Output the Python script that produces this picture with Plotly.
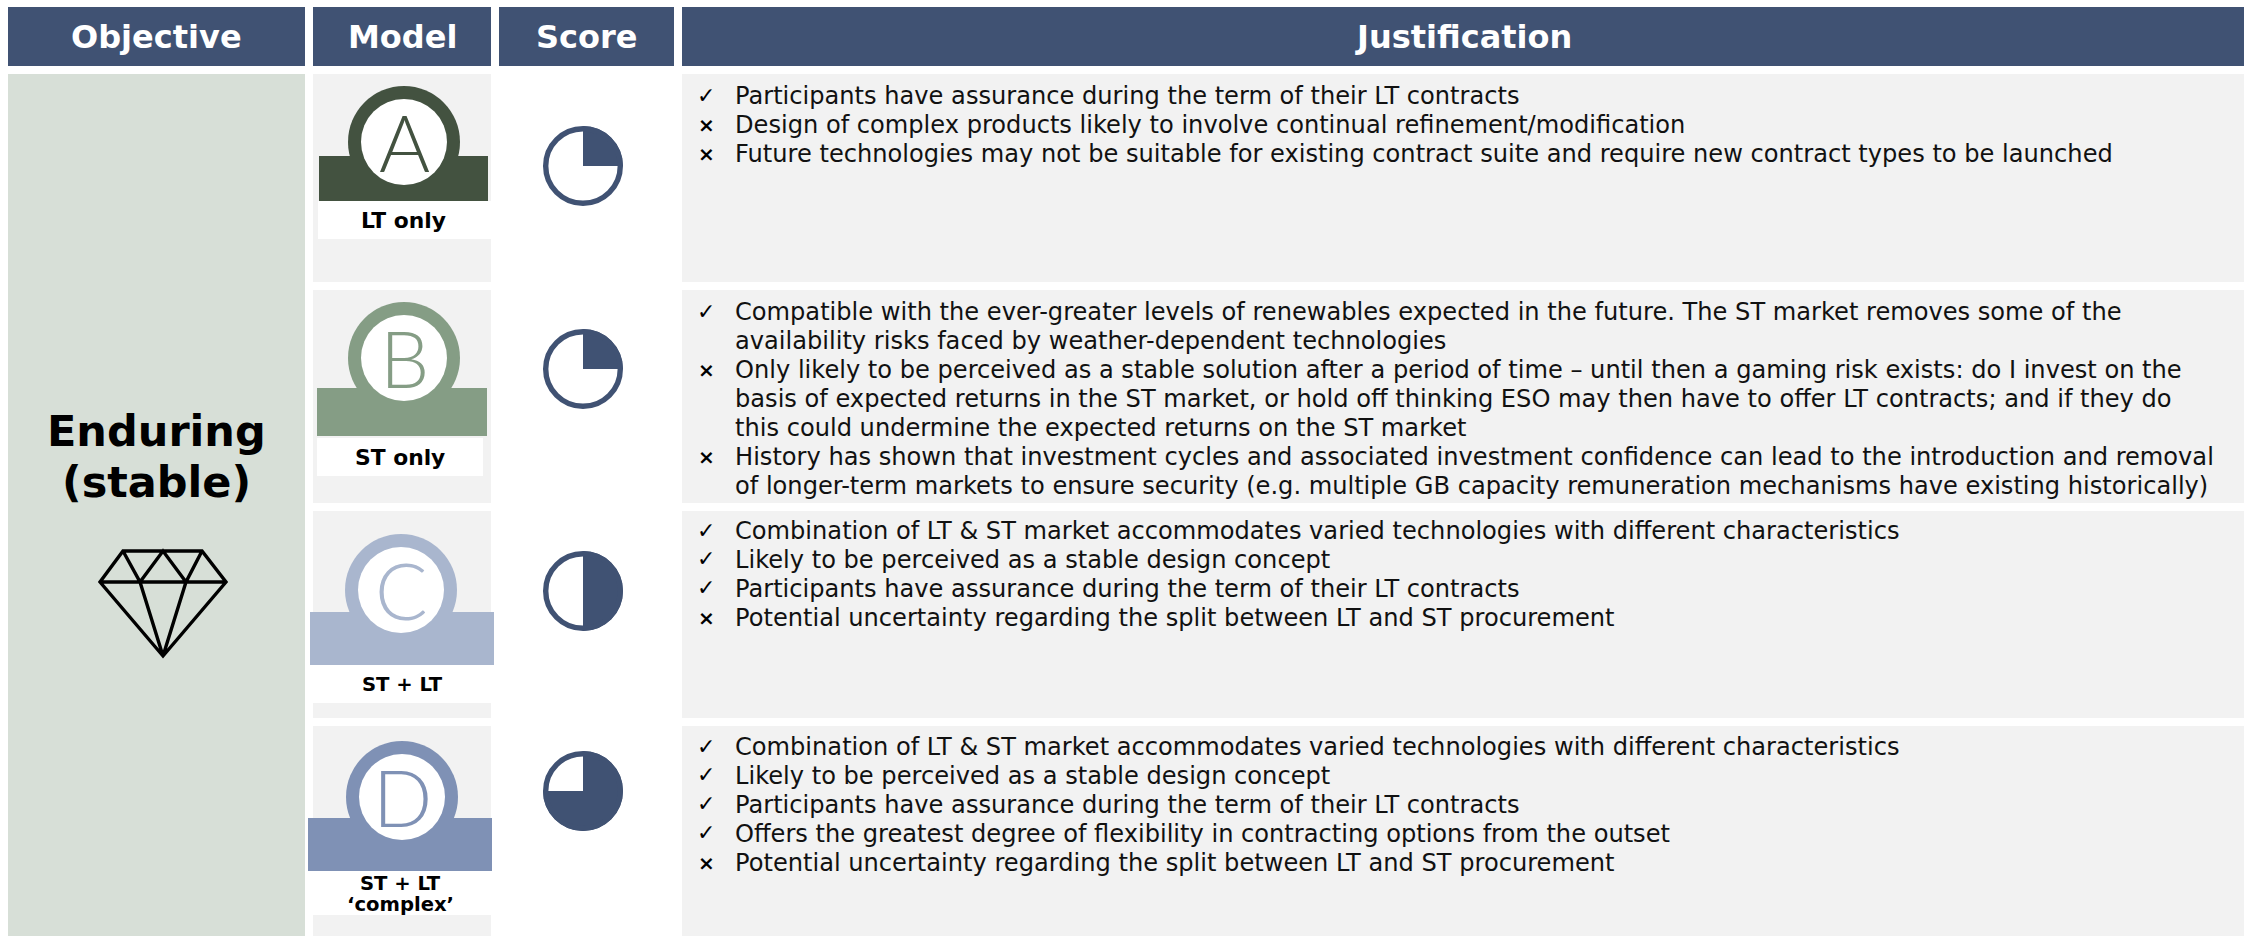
import plotly.graph_objects as go

# ---- content ----
headers = ["Objective", "Model", "Score", "Justification"]
objective_lines = ["Enduring", "(stable)"]
model_letters = ["A", "B", "C", "D"]
model_labels = [["LT only"], ["ST only"], ["ST + LT"], ["ST + LT", "‘complex’"]]
score_values = [25, 25, 50, 75]

just_a = [
    ("✓", ["Participants have assurance during the term of their LT contracts"]),
    ("×", ["Design of complex products likely to involve continual refinement/modification"]),
    ("×", ["Future technologies may not be suitable for existing contract suite and require new contract types to be launched"]),
]
just_b = [
    ("✓", ["Compatible with the ever-greater levels of renewables expected in the future. The ST market removes some of the",
           "availability risks faced by weather-dependent technologies"]),
    ("×", ["Only likely to be perceived as a stable solution after a period of time – until then a gaming risk exists: do I invest on the",
           "basis of expected returns in the ST market, or hold off thinking ESO may then have to offer LT contracts; and if they do",
           "this could undermine the expected returns on the ST market"]),
    ("×", ["History has shown that investment cycles and associated investment confidence can lead to the introduction and removal",
           "of longer-term markets to ensure security (e.g. multiple GB capacity remuneration mechanisms have existing historically)"]),
]
just_c = [
    ("✓", ["Combination of LT & ST market accommodates varied technologies with different characteristics"]),
    ("✓", ["Likely to be perceived as a stable design concept"]),
    ("✓", ["Participants have assurance during the term of their LT contracts"]),
    ("×", ["Potential uncertainty regarding the split between LT and ST procurement"]),
]
just_d = [
    ("✓", ["Combination of LT & ST market accommodates varied technologies with different characteristics"]),
    ("✓", ["Likely to be perceived as a stable design concept"]),
    ("✓", ["Participants have assurance during the term of their LT contracts"]),
    ("✓", ["Offers the greatest degree of flexibility in contracting options from the outset"]),
    ("×", ["Potential uncertainty regarding the split between LT and ST procurement"]),
]
justifications = [just_a, just_b, just_c, just_d]

# ---- layout (pixels) and styles ----
W, H = 2250, 936
NAVY, GREY, SAGE = "#405273", "#F2F2F2", "#D7DFD7"
FONT = "DejaVu Sans"
cols = [(8, 305), (313, 491), (499, 674), (682, 2244)]
rows = [(74, 282), (290, 503), (511, 718), (726, 936)]
emblem_colors = ["#435240", "#859D85", "#A9B6CE", "#7F91B5"]
emblem_cx = [404, 404, 401, 402]
emblem_cy = [142, 358, 590, 797]
bars = [(319, 488, 156, 201), (317, 487, 388, 436), (310, 494, 612, 665), (308, 492, 818, 871)]
label_boxes = [(318, 491, 201, 239), (317, 483, 438, 476), (313, 491, 665, 703), (313, 491, 871, 915)]
label_cx = [403, 400, 402, 400]
label_y0 = [220, 457, 684, 883]
label_size = [21.8, 21.8, 19.6, 19.6]
pie_cx, pie_r, pie_ring = 583, 40, 5.4
pie_cy = [166, 369, 591, 791]
text_y0 = [96, 312, 531, 747]
LINE = 28.95

shapes, ann = [], []


def rect(x0, x1, y0, y1, color):
    shapes.append(dict(type="rect", x0=x0, x1=x1, y0=y0, y1=y1, fillcolor=color, line_width=0))


def circ(cx, cy, r, fill, line=None, lw=0):
    shapes.append(dict(type="circle", x0=cx - r, x1=cx + r, y0=cy - r, y1=cy + r,
                       fillcolor=fill, line=dict(color=line or fill, width=lw)))


def text(x, y, s, size, color="#000000", bold=False, anchor="center", family=FONT, weight=None):
    ann.append(dict(x=x, y=y, text=s, showarrow=False, xanchor=anchor, yanchor="middle",
                    font=dict(family=family, size=size, color=color,
                              weight=weight if weight else ("bold" if bold else "normal"))))


# header row
for (x0, x1), name in zip(cols, headers):
    rect(x0, x1, 7, 66, NAVY)
    text((x0 + x1) / 2, 37, name, 32, "#FFFFFF", True)

# objective panel
rect(8, 305, 74, 936, SAGE)
for i, s in enumerate(objective_lines):
    text(156, 431 + i * 51, s, 43, bold=True)
diamond = ("M123,551 L202,551 L226,582 L163,656 L100,582 Z M100,582 L226,582 "
           "M123,551 L140,582 L163,656 M202,551 L186,582 L163,656 M140,582 L163,551 L186,582")
shapes.append(dict(type="path", path=diamond, line=dict(color="#000000", width=3.4)))

traces = []
for i in range(4):
    y0, y1 = rows[i]
    rect(313, 491, y0, y1, GREY)
    rect(682, 2244, y0, y1, GREY)
    # emblem
    c = emblem_colors[i]
    circ(emblem_cx[i], emblem_cy[i], 56, c)
    bx0, bx1, by0, by1 = bars[i]
    rect(bx0, bx1, by0, by1, c)
    lx0, lx1, ly0, ly1 = label_boxes[i]
    rect(lx0, lx1, ly0, ly1, "#FFFFFF")
    circ(emblem_cx[i], emblem_cy[i], 43, "#FFFFFF")
    text(emblem_cx[i], emblem_cy[i], model_letters[i], 78, c, family="Lato", weight=300)
    for k, s in enumerate(model_labels[i]):
        text(label_cx[i], label_y0[i] + k * 21, s, label_size[i], bold=True)
    # score pie
    v = score_values[i]
    traces.append(go.Pie(
        values=[v, 100 - v], sort=False, direction="clockwise", rotation=0,
        marker=dict(colors=[NAVY, "#FFFFFF"], line=dict(width=0)),
        textinfo="none", hoverinfo="skip", showlegend=False,
        domain=dict(x=[(pie_cx - pie_r) / W, (pie_cx + pie_r) / W],
                    y=[1 - (pie_cy[i] + pie_r) / H, 1 - (pie_cy[i] - pie_r) / H]),
    ))
    circ(pie_cx, pie_cy[i], pie_r - pie_ring / 2, "rgba(0,0,0,0)", NAVY, pie_ring)
    # justification text
    n = 0
    for mark, lines in justifications[i]:
        if mark == "✓":
            text(706, text_y0[i] + n * LINE - 1, mark, 22)
        else:
            text(706, text_y0[i] + n * LINE, mark, 20, bold=True)
        for s in lines:
            text(732.5, text_y0[i] + n * LINE, s, 24.12, "#111111", anchor="left")
            n += 1

fig = go.Figure(traces)
fig.update_layout(
    width=W, height=H, margin=dict(l=0, r=0, t=0, b=0), autosize=False,
    paper_bgcolor="#FFFFFF", plot_bgcolor="#FFFFFF",
    xaxis=dict(range=[0, W], visible=False, fixedrange=True),
    yaxis=dict(range=[H, 0], visible=False, fixedrange=True),
    shapes=shapes, annotations=ann,
)
fig.add_trace(go.Scatter(x=[0, W], y=[0, H], mode="markers", marker=dict(opacity=0), hoverinfo="skip", showlegend=False))
fig.write_html("out.html", post_script="document.body.style.margin='0';document.body.style.overflow='hidden';",
               config=dict(displayModeBar=False))
